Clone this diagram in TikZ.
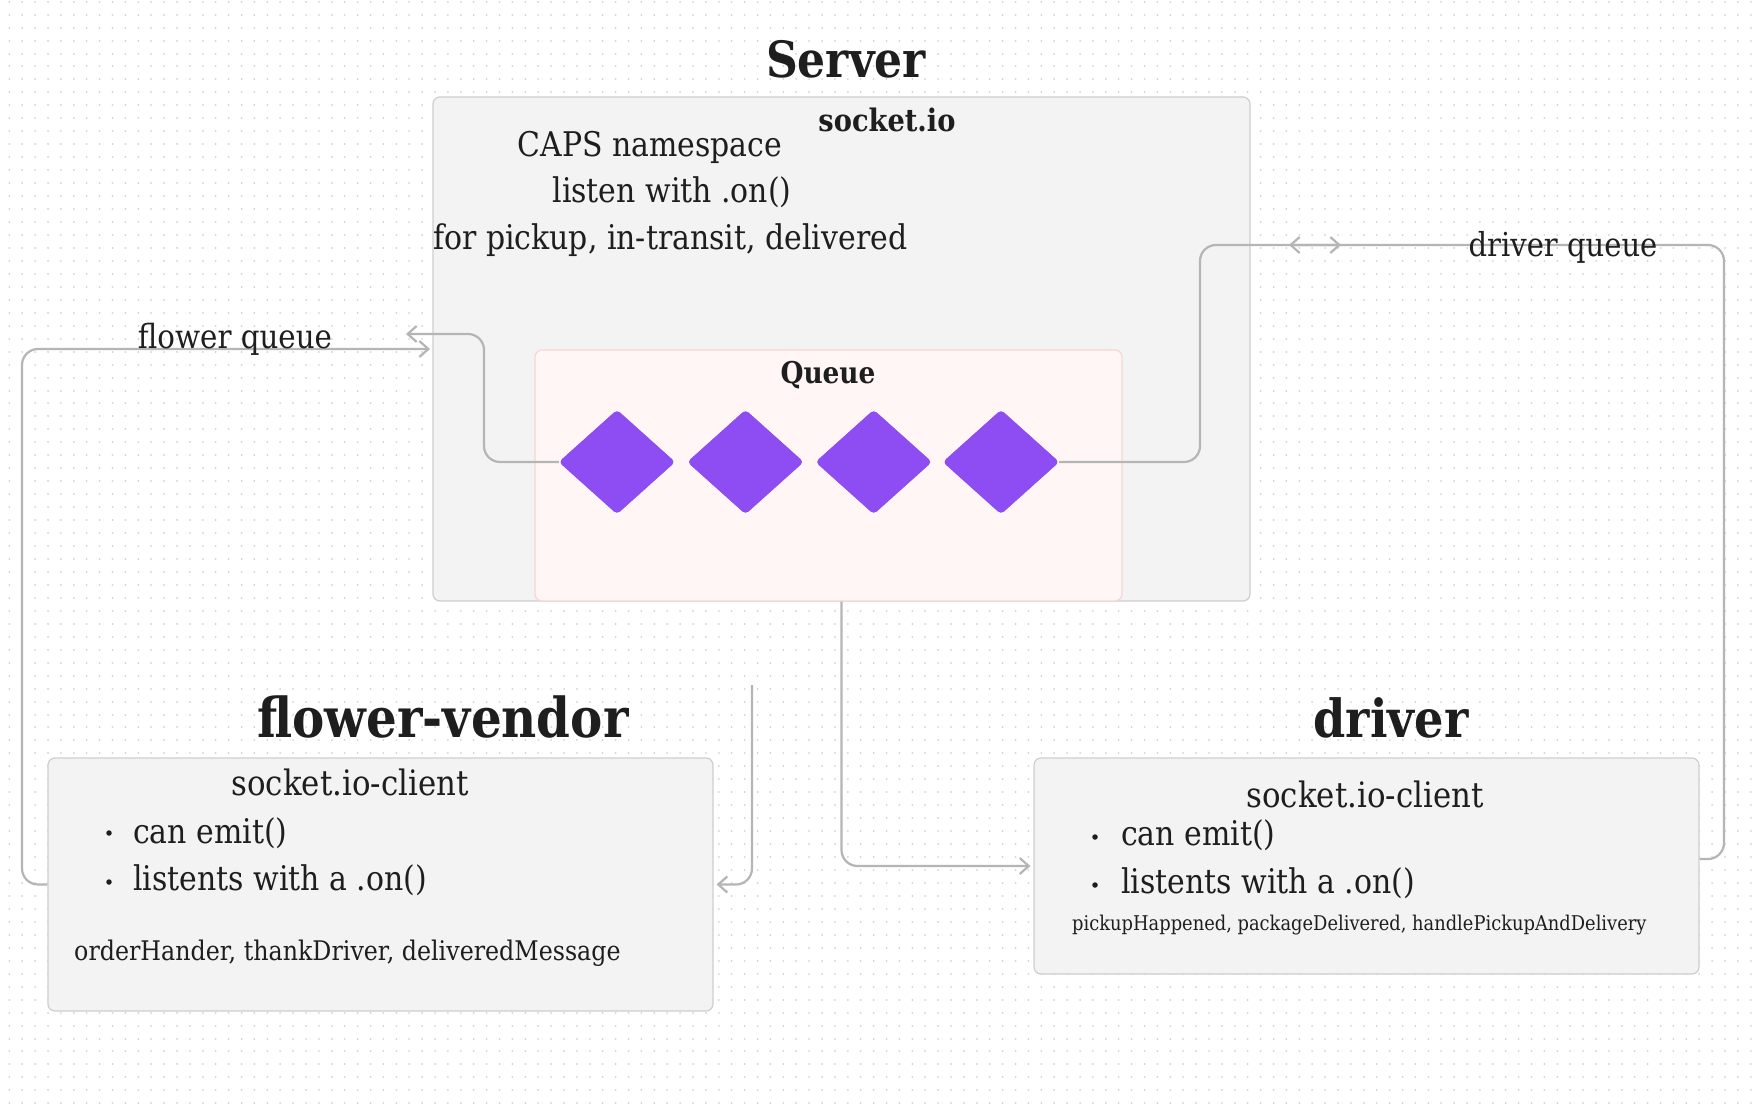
\documentclass[tikz,border=0pt]{standalone}
\usepackage{fontspec}
\setmainfont{DejaVu Serif}[FakeStretch=0.88]
\usetikzlibrary{arrows.meta,shapes.geometric,calc}
\definecolor{dotc}{RGB}{210,210,210}
\definecolor{boxfill}{RGB}{243,243,243}
\definecolor{boxline}{RGB}{206,206,206}
\definecolor{qfill}{RGB}{255,246,245}
\definecolor{qline}{RGB}{245,214,210}
\definecolor{purp}{RGB}{141,77,242}
\definecolor{connc}{RGB}{181,181,181}
\definecolor{ink}{RGB}{30,30,30}
\tikzset{
  box/.style={draw=boxline, fill=boxfill, line width=1.2pt, rounded corners=7pt, inner sep=0pt},
  qbox/.style={draw=qline, fill=qfill, line width=1.2pt, rounded corners=7pt, inner sep=0pt},
  dia/.style={diamond, fill=purp, minimum width=116pt, minimum height=104pt, inner sep=0pt, rounded corners=4pt},
  cn/.style={draw=connc, line width=2.2pt, rounded corners=16pt, -{Straight Barb[length=9pt,width=16pt]}},
  txt/.style={inner sep=0pt, anchor=base, text=ink, font=\fontsize{34}{40}\selectfont},
  txtw/.style={txt, anchor=base west},
  title/.style={txt, font=\fontsize{50}{56}\selectfont\bfseries},
  bul/.style={circle, fill=ink, inner sep=0pt, minimum size=5.5pt}
}
\begin{document}
\begin{tikzpicture}[x=1pt,y=-1pt]
\fill[white] (0,0) rectangle (1758,1107);
\useasboundingbox (0,0) rectangle (1758,1107);
\foreach \k in {0,...,85}
  \draw[dotc, line width=2pt, line cap=round, dash pattern=on 0.01pt off 12.89pt] (9.3,{1.7+12.96*\k}) -- (1758,{1.7+12.96*\k});

% boxes
\node[box, minimum width=817pt, minimum height=504pt] (server) at (841.5,349) {};
\node[qbox, minimum width=587pt, minimum height=251pt] (queue) at (828.5,475.5) {};
\node[box, minimum width=665pt, minimum height=253pt] (fv) at (380.5,884.5) {};
\node[box, minimum width=665pt, minimum height=216pt] (drv) at (1366.5,866) {};

% free ends
\coordinate (fqL) at (406,334);
\coordinate (fqR) at (430,349);
\coordinate (dqR) at (1341,245);
\coordinate (dqL) at (1289,245);
\coordinate (freeTop) at (752,685);

% diamonds
\node[dia] (d1) at (617,462) {};
\node[dia] (d2) at (745.5,462) {};
\node[dia] (d3) at (873.7,462) {};
\node[dia] (d4) at (1001,462) {};

% connectors
\draw[cn] (d1.west) -- (484,462) -- (484,334) -- (fqL);
\draw[cn] (fv.west) -- (22,884.5) -- (22,349) -- (fqR);
\draw[cn] (d4.east) -- (1200,462) -- (1200,245) -- (dqR);
\draw[cn] ([yshift=7pt]drv.east) -- (1724,859) -- (1724,245) -- (dqL);
\draw[cn] (server.south) |- ([xshift=-3pt]drv.west);
\draw[cn] (freeTop) -- (752,884.5) -- ([xshift=3pt]fv.east);

% redraw diamonds on top of lines
\foreach \n in {d1,d2,d3,d4} \fill[purp, rounded corners=4pt] (\n.north) -- (\n.east) -- (\n.south) -- (\n.west) -- cycle;

% texts
\node[title] (tServer) at (846,78) {Server};
\node[txt, font=\fontsize{31}{36}\selectfont\bfseries] (tSock) at (887,132) {socket.io};
\node[txt] (tCaps) at (650,157) {CAPS namespace};
\node[txt] (tListen) at (672,203) {listen with .on()};
\node[txtw] (tFor) at (433,250) {for pickup, in-transit, delivered};
\node[txt, font=\fontsize{30}{36}\selectfont\bfseries] (tQueue) at (828,383) {Queue};
\node[txt, font=\fontsize{33.3}{38}\selectfont] (tFQ) at (235,348) {flower queue};
\node[txt, font=\fontsize{33}{38}\selectfont] (tDQ) at (1563,257) {driver queue};

\node[title, font=\fontsize{55}{60}\selectfont\bfseries] (tFV) at (443,737) {flower-vendor};
\node[txt, font=\fontsize{35}{40}\selectfont] (fvSock) at (350,795) {socket.io-client};
\node[bul] (fvB1) at (109,833) {};
\node[txtw] (fvE) at (133,843) {can emit()};
\node[bul] (fvB2) at (109,882) {};
\node[txtw] (fvL) at (133,890) {listents with a .on()};
\node[txtw, font=\fontsize{27}{32}\selectfont] (fvH) at (74,960) {orderHander, thankDriver, deliveredMessage};

\node[title, font=\fontsize{52.5}{58}\selectfont\bfseries] (tDrv) at (1391,737) {driver};
\node[txt, font=\fontsize{35}{40}\selectfont] (dSock) at (1365,807) {socket.io-client};
\node[bul] (dB1) at (1095,837) {};
\node[txtw] (dE) at (1121,845) {can emit()};
\node[bul] (dB2) at (1095,885) {};
\node[txtw] (dL) at (1121,893) {listents with a .on()};
\node[txtw, font=\fontsize{20.3}{24}\selectfont] (dH) at (1072,930) {pickupHappened, packageDelivered, handlePickupAndDelivery};
\end{tikzpicture}
\end{document}
